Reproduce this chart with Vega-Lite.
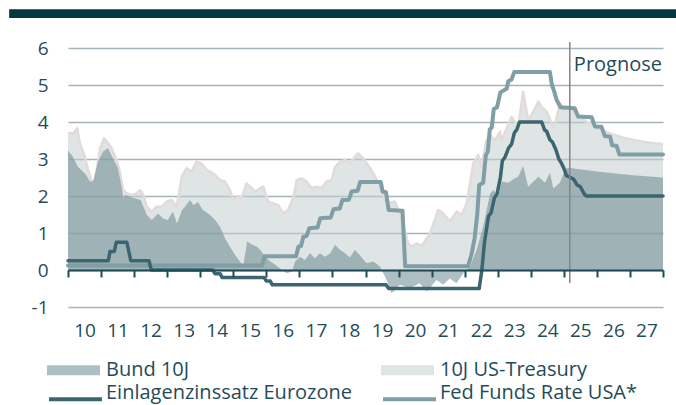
{
  "$schema": "https://vega.github.io/schema/vega-lite/v6.json",
  "width": 595,
  "height": 259,
  "autosize": {"type": "none"},
  "padding": {"left": 68, "top": 48, "right": 13, "bottom": 98},
  "background": "white",
  "config": {
    "view": {"stroke": null},
    "font": "Open Sans",
    "text": {"font": "Open Sans"}
  },
  "resolve": {"axis": {"x": "independent", "y": "independent"}},
  "datasets": {
    "bund": [
      {"t": 2010.00, "v": 3.24}, {"t": 2010.05, "v": 3.17}, {"t": 2010.12, "v": 3.10}, {"t": 2010.30, "v": 2.79},
      {"t": 2010.45, "v": 2.66}, {"t": 2010.55, "v": 2.57}, {"t": 2010.66, "v": 2.39}, {"t": 2010.76, "v": 2.39},
      {"t": 2010.91, "v": 2.93}, {"t": 2011.06, "v": 3.20}, {"t": 2011.21, "v": 3.29}, {"t": 2011.36, "v": 3.02},
      {"t": 2011.51, "v": 2.75}, {"t": 2011.63, "v": 2.21}, {"t": 2011.67, "v": 1.94}, {"t": 2011.72, "v": 2.03},
      {"t": 2011.87, "v": 1.98}, {"t": 2012.02, "v": 1.94}, {"t": 2012.20, "v": 1.89}, {"t": 2012.38, "v": 1.49},
      {"t": 2012.53, "v": 1.35}, {"t": 2012.63, "v": 1.44}, {"t": 2012.72, "v": 1.53}, {"t": 2012.87, "v": 1.40},
      {"t": 2013.02, "v": 1.35}, {"t": 2013.17, "v": 1.58}, {"t": 2013.30, "v": 1.26}, {"t": 2013.45, "v": 1.62},
      {"t": 2013.54, "v": 1.71}, {"t": 2013.69, "v": 1.89}, {"t": 2013.80, "v": 1.75}, {"t": 2013.93, "v": 1.84},
      {"t": 2014.08, "v": 1.62}, {"t": 2014.29, "v": 1.49}, {"t": 2014.45, "v": 1.35}, {"t": 2014.60, "v": 1.17},
      {"t": 2014.75, "v": 0.86}, {"t": 2014.90, "v": 0.63}, {"t": 2015.05, "v": 0.41}, {"t": 2015.20, "v": 0.23},
      {"t": 2015.30, "v": 0.09}, {"t": 2015.42, "v": 0.77}, {"t": 2015.57, "v": 0.68}, {"t": 2015.72, "v": 0.63},
      {"t": 2015.82, "v": 0.54}, {"t": 2015.97, "v": 0.36}, {"t": 2016.12, "v": 0.23}, {"t": 2016.27, "v": 0.14},
      {"t": 2016.47, "v": 0.00}, {"t": 2016.62, "v": -0.09}, {"t": 2016.77, "v": -0.05}, {"t": 2016.87, "v": 0.23},
      {"t": 2017.02, "v": 0.36}, {"t": 2017.17, "v": 0.27}, {"t": 2017.32, "v": 0.45}, {"t": 2017.47, "v": 0.32},
      {"t": 2017.62, "v": 0.45}, {"t": 2017.78, "v": 0.36}, {"t": 2017.93, "v": 0.45}, {"t": 2018.08, "v": 0.68},
      {"t": 2018.23, "v": 0.54}, {"t": 2018.38, "v": 0.45}, {"t": 2018.53, "v": 0.34}, {"t": 2018.68, "v": 0.55},
      {"t": 2018.83, "v": 0.40}, {"t": 2019.03, "v": 0.18}, {"t": 2019.24, "v": 0.23}, {"t": 2019.44, "v": 0.09},
      {"t": 2019.64, "v": -0.27}, {"t": 2019.79, "v": -0.63}, {"t": 2020.04, "v": -0.40}, {"t": 2020.34, "v": -0.49},
      {"t": 2020.64, "v": -0.36}, {"t": 2020.85, "v": -0.58}, {"t": 2021.15, "v": -0.27}, {"t": 2021.35, "v": -0.40},
      {"t": 2021.55, "v": -0.23}, {"t": 2021.75, "v": -0.36}, {"t": 2021.96, "v": -0.09}, {"t": 2022.16, "v": 0.09},
      {"t": 2022.36, "v": 0.54}, {"t": 2022.56, "v": 1.17}, {"t": 2022.77, "v": 2.07}, {"t": 2022.87, "v": 2.16},
      {"t": 2023.02, "v": 1.98}, {"t": 2023.12, "v": 2.39}, {"t": 2023.32, "v": 2.36}, {"t": 2023.47, "v": 2.45},
      {"t": 2023.62, "v": 2.52}, {"t": 2023.77, "v": 2.81}, {"t": 2023.92, "v": 2.25}, {"t": 2024.23, "v": 2.52},
      {"t": 2024.43, "v": 2.36}, {"t": 2024.58, "v": 2.63}, {"t": 2024.68, "v": 2.20}, {"t": 2024.88, "v": 2.36},
      {"t": 2024.98, "v": 2.58}, {"t": 2025.08, "v": 2.75}, {"t": 2025.18, "v": 2.76}, {"t": 2026.00, "v": 2.66},
      {"t": 2027.00, "v": 2.57}, {"t": 2028.00, "v": 2.50}
    ],
    "ust": [
      {"t": 2010.00, "v": 3.71}, {"t": 2010.16, "v": 3.69}, {"t": 2010.28, "v": 3.83}, {"t": 2010.36, "v": 3.42},
      {"t": 2010.51, "v": 3.06}, {"t": 2010.61, "v": 2.70}, {"t": 2010.72, "v": 2.39}, {"t": 2010.82, "v": 2.43},
      {"t": 2010.97, "v": 3.29}, {"t": 2011.09, "v": 3.56}, {"t": 2011.22, "v": 3.42}, {"t": 2011.32, "v": 3.29},
      {"t": 2011.47, "v": 2.97}, {"t": 2011.57, "v": 2.65}, {"t": 2011.67, "v": 2.16}, {"t": 2011.78, "v": 2.07},
      {"t": 2011.93, "v": 2.03}, {"t": 2012.08, "v": 2.07}, {"t": 2012.18, "v": 2.16}, {"t": 2012.28, "v": 2.03},
      {"t": 2012.38, "v": 1.71}, {"t": 2012.53, "v": 1.58}, {"t": 2012.68, "v": 1.71}, {"t": 2012.83, "v": 1.71},
      {"t": 2012.99, "v": 1.85}, {"t": 2013.14, "v": 1.89}, {"t": 2013.29, "v": 1.71}, {"t": 2013.44, "v": 2.52},
      {"t": 2013.59, "v": 2.75}, {"t": 2013.74, "v": 2.66}, {"t": 2013.89, "v": 2.93}, {"t": 2014.04, "v": 2.88},
      {"t": 2014.20, "v": 2.70}, {"t": 2014.30, "v": 2.66}, {"t": 2014.45, "v": 2.57}, {"t": 2014.60, "v": 2.43},
      {"t": 2014.75, "v": 2.39}, {"t": 2014.90, "v": 2.16}, {"t": 2015.00, "v": 1.89}, {"t": 2015.15, "v": 2.00},
      {"t": 2015.25, "v": 1.94}, {"t": 2015.40, "v": 2.34}, {"t": 2015.56, "v": 2.21}, {"t": 2015.66, "v": 2.12},
      {"t": 2015.81, "v": 2.21}, {"t": 2015.91, "v": 2.25}, {"t": 2016.06, "v": 1.85}, {"t": 2016.21, "v": 1.80},
      {"t": 2016.36, "v": 1.75}, {"t": 2016.51, "v": 1.53}, {"t": 2016.66, "v": 1.62}, {"t": 2016.82, "v": 1.98},
      {"t": 2016.92, "v": 2.43}, {"t": 2017.07, "v": 2.48}, {"t": 2017.22, "v": 2.39}, {"t": 2017.37, "v": 2.21},
      {"t": 2017.52, "v": 2.25}, {"t": 2017.67, "v": 2.21}, {"t": 2017.82, "v": 2.39}, {"t": 2017.98, "v": 2.43},
      {"t": 2018.08, "v": 2.79}, {"t": 2018.23, "v": 2.93}, {"t": 2018.38, "v": 2.97}, {"t": 2018.53, "v": 2.90},
      {"t": 2018.68, "v": 3.06}, {"t": 2018.78, "v": 3.15}, {"t": 2018.93, "v": 3.02}, {"t": 2019.24, "v": 2.61},
      {"t": 2019.44, "v": 2.25}, {"t": 2019.64, "v": 1.80}, {"t": 2019.89, "v": 1.85}, {"t": 2020.04, "v": 1.53},
      {"t": 2020.29, "v": 0.72}, {"t": 2020.40, "v": 0.63}, {"t": 2020.55, "v": 0.72}, {"t": 2020.70, "v": 0.65},
      {"t": 2020.95, "v": 0.99}, {"t": 2021.20, "v": 1.62}, {"t": 2021.35, "v": 1.53}, {"t": 2021.55, "v": 1.31},
      {"t": 2021.76, "v": 1.58}, {"t": 2021.91, "v": 1.49}, {"t": 2022.06, "v": 1.80}, {"t": 2022.26, "v": 2.88},
      {"t": 2022.41, "v": 3.11}, {"t": 2022.51, "v": 2.79}, {"t": 2022.66, "v": 3.51}, {"t": 2022.76, "v": 3.65},
      {"t": 2022.92, "v": 3.51}, {"t": 2023.07, "v": 3.74}, {"t": 2023.12, "v": 3.51}, {"t": 2023.25, "v": 3.78},
      {"t": 2023.42, "v": 4.14}, {"t": 2023.62, "v": 3.87}, {"t": 2023.77, "v": 4.82}, {"t": 2023.92, "v": 4.05},
      {"t": 2024.08, "v": 4.28}, {"t": 2024.23, "v": 4.55}, {"t": 2024.33, "v": 4.41}, {"t": 2024.48, "v": 4.28},
      {"t": 2024.62, "v": 4.00}, {"t": 2024.68, "v": 3.83}, {"t": 2024.78, "v": 4.10}, {"t": 2024.88, "v": 4.50},
      {"t": 2024.98, "v": 4.32}, {"t": 2025.18, "v": 4.41}, {"t": 2025.45, "v": 4.14}, {"t": 2025.80, "v": 3.95},
      {"t": 2026.14, "v": 3.78}, {"t": 2026.50, "v": 3.66}, {"t": 2026.85, "v": 3.56}, {"t": 2027.27, "v": 3.49},
      {"t": 2027.60, "v": 3.44}, {"t": 2028.00, "v": 3.40}
    ],
    "ecb": [
      {"t": 2010.00, "v": 0.25}, {"t": 2011.22, "v": 0.25}, {"t": 2011.27, "v": 0.50}, {"t": 2011.40, "v": 0.50},
      {"t": 2011.46, "v": 0.75}, {"t": 2011.78, "v": 0.75}, {"t": 2011.90, "v": 0.25}, {"t": 2012.45, "v": 0.25},
      {"t": 2012.52, "v": 0.00}, {"t": 2014.38, "v": 0.00}, {"t": 2014.45, "v": -0.10}, {"t": 2014.60, "v": -0.10},
      {"t": 2014.66, "v": -0.20}, {"t": 2015.93, "v": -0.20}, {"t": 2016.00, "v": -0.30}, {"t": 2016.12, "v": -0.30},
      {"t": 2016.18, "v": -0.40}, {"t": 2019.62, "v": -0.40}, {"t": 2019.70, "v": -0.50}, {"t": 2022.44, "v": -0.50},
      {"t": 2022.52, "v": 0.00}, {"t": 2022.60, "v": 0.75}, {"t": 2022.72, "v": 1.45}, {"t": 2022.80, "v": 1.55},
      {"t": 2022.90, "v": 1.95}, {"t": 2022.98, "v": 2.05}, {"t": 2023.08, "v": 2.50}, {"t": 2023.14, "v": 2.95},
      {"t": 2023.22, "v": 3.05}, {"t": 2023.33, "v": 3.30}, {"t": 2023.42, "v": 3.40}, {"t": 2023.50, "v": 3.70},
      {"t": 2023.58, "v": 3.80}, {"t": 2023.66, "v": 4.00}, {"t": 2024.33, "v": 4.00}, {"t": 2024.42, "v": 3.78},
      {"t": 2024.48, "v": 3.75}, {"t": 2024.58, "v": 3.52}, {"t": 2024.66, "v": 3.45}, {"t": 2024.76, "v": 3.25},
      {"t": 2024.85, "v": 3.00}, {"t": 2024.92, "v": 2.90}, {"t": 2025.00, "v": 2.75}, {"t": 2025.08, "v": 2.55},
      {"t": 2025.20, "v": 2.50}, {"t": 2025.30, "v": 2.45}, {"t": 2025.40, "v": 2.30}, {"t": 2025.50, "v": 2.25},
      {"t": 2025.62, "v": 2.05}, {"t": 2025.68, "v": 2.00}, {"t": 2028.00, "v": 2.00}
    ],
    "fed": [
      {"t": 2010.00, "v": 0.12}, {"t": 2015.87, "v": 0.12}, {"t": 2015.95, "v": 0.37}, {"t": 2016.90, "v": 0.37},
      {"t": 2016.97, "v": 0.63}, {"t": 2017.05, "v": 0.65}, {"t": 2017.12, "v": 0.90}, {"t": 2017.22, "v": 0.92},
      {"t": 2017.30, "v": 1.13}, {"t": 2017.55, "v": 1.15}, {"t": 2017.63, "v": 1.40}, {"t": 2017.95, "v": 1.42},
      {"t": 2018.03, "v": 1.64}, {"t": 2018.22, "v": 1.66}, {"t": 2018.30, "v": 1.89}, {"t": 2018.50, "v": 1.90},
      {"t": 2018.58, "v": 2.12}, {"t": 2018.76, "v": 2.14}, {"t": 2018.84, "v": 2.38}, {"t": 2019.46, "v": 2.38},
      {"t": 2019.52, "v": 2.12}, {"t": 2019.62, "v": 2.10}, {"t": 2019.70, "v": 1.62}, {"t": 2020.12, "v": 1.60},
      {"t": 2020.20, "v": 0.10}, {"t": 2022.10, "v": 0.10}, {"t": 2022.20, "v": 0.40}, {"t": 2022.30, "v": 0.85},
      {"t": 2022.38, "v": 1.50}, {"t": 2022.44, "v": 2.30}, {"t": 2022.56, "v": 2.36}, {"t": 2022.64, "v": 3.10},
      {"t": 2022.70, "v": 3.20}, {"t": 2022.76, "v": 3.80}, {"t": 2022.82, "v": 3.85}, {"t": 2022.88, "v": 4.35},
      {"t": 2022.98, "v": 4.40}, {"t": 2023.08, "v": 4.80}, {"t": 2023.27, "v": 4.90}, {"t": 2023.32, "v": 5.10},
      {"t": 2023.42, "v": 5.15}, {"t": 2023.50, "v": 5.35}, {"t": 2024.58, "v": 5.35}, {"t": 2024.64, "v": 5.00},
      {"t": 2024.70, "v": 4.85}, {"t": 2024.78, "v": 4.60}, {"t": 2024.90, "v": 4.40}, {"t": 2025.33, "v": 4.37},
      {"t": 2025.43, "v": 4.15}, {"t": 2025.84, "v": 4.13}, {"t": 2025.94, "v": 3.88}, {"t": 2026.14, "v": 3.87},
      {"t": 2026.24, "v": 3.62}, {"t": 2026.40, "v": 3.60}, {"t": 2026.46, "v": 3.37}, {"t": 2026.60, "v": 3.35},
      {"t": 2026.68, "v": 3.12}, {"t": 2028.00, "v": 3.12}
    ]
  },
  "layer": [
    {
      "data": {"name": "ust"},
      "mark": {"type": "area", "fillOpacity": 0.55, "interpolate": "linear"},
      "encoding": {
        "x": {
          "field": "t",
          "type": "quantitative",
          "title": null,
          "scale": {"domain": [2010, 2028], "nice": false, "zero": false},
          "axis": {
            "title": null,
            "values": [2010, 2011, 2012, 2013, 2014, 2015, 2016, 2017, 2018, 2019, 2020, 2021, 2022, 2023, 2024, 2025, 2026, 2027, 2028],
            "labelExpr": "datum.value < 2028 ? format(datum.value - 2000, 'd') : ''",
            "offset": -37,
            "grid": false,
            "domainColor": "#1d4a56",
            "domainWidth": 2,
            "tickColor": "#1d4a56",
            "tickWidth": 2,
            "tickSize": 7,
            "labelOffset": 16.5,
            "labelPadding": 44,
            "labelFontSize": 19,
            "labelColor": "#1f4c59",
            "labelFont": "Open Sans",
            "labelFlush": false,
            "labelOverlap": false,
            "zindex": 1
          }
        },
        "y": {
          "field": "v",
          "type": "quantitative",
          "title": null,
          "scale": {"domain": [-1, 6], "nice": false, "zero": false},
          "axis": {
            "title": null,
            "values": [-1, 0, 1, 2, 3, 4, 5, 6],
            "labelExpr": "datum.value == -1 ? '-1' : datum.label",
            "grid": true,
            "gridColor": "#a3b5ba",
            "gridWidth": 1.5,
            "domain": false,
            "ticks": false,
            "labelPadding": 20,
            "labelFontSize": 19,
            "labelColor": "#1f4c59",
            "labelFont": "Open Sans",
            "labelOverlap": false
          }
        },
        "fill": {
          "datum": "10J US-Treasury",
          "scale": {"domain": ["Bund 10J", "10J US-Treasury"], "range": ["#6a8b91", "#c5ced0"]},
          "legend": {
            "title": null,
            "orient": "none",
            "legendX": -21,
            "legendY": 295.5,
            "direction": "horizontal",
            "columns": 2,
            "columnPadding": 191,
            "symbolType": "M-1,-0.19H1V0.19H-1Z",
            "symbolSize": 2809,
            "symbolOpacity": 0.55,
            "symbolStrokeWidth": 0,
            "labelFontSize": 20,
            "labelLimit": 400,
            "labelColor": "#1f4c59",
            "labelFont": "Open Sans",
            "labelOffset": 6
          }
        }
      }
    },
    {
      "data": {"name": "ust"},
      "mark": {"type": "line", "color": "#e3dbda", "strokeWidth": 2.5, "strokeJoin": "round"},
      "encoding": {
        "x": {"field": "t", "type": "quantitative", "axis": null},
        "y": {"field": "v", "type": "quantitative", "axis": null}
      }
    },
    {
      "data": {"name": "bund"},
      "mark": {"type": "area", "fillOpacity": 0.55, "interpolate": "linear"},
      "encoding": {
        "x": {"field": "t", "type": "quantitative", "axis": null},
        "y": {"field": "v", "type": "quantitative", "axis": null},
        "fill": {"datum": "Bund 10J"}
      }
    },
    {
      "data": {"name": "fed"},
      "mark": {"type": "line", "strokeWidth": 4, "strokeJoin": "round", "strokeCap": "round"},
      "encoding": {
        "x": {"field": "t", "type": "quantitative", "axis": null},
        "y": {"field": "v", "type": "quantitative", "axis": null},
        "stroke": {
          "datum": "Fed Funds Rate USA*",
          "scale": {"domain": ["Einlagenzinssatz Eurozone", "Fed Funds Rate USA*"], "range": ["#3b6571", "#7f9ea5"]},
          "legend": {
            "title": null,
            "orient": "none",
            "legendX": -21,
            "legendY": 322.5,
            "direction": "horizontal",
            "columns": 2,
            "columnPadding": 23,
            "symbolType": "stroke",
            "symbolSize": 2809,
            "symbolStrokeWidth": 4,
            "labelFontSize": 20,
            "labelLimit": 400,
            "labelBaseline": "alphabetic",
            "labelColor": "#1f4c59",
            "labelFont": "Open Sans",
            "labelOffset": 2
          }
        }
      }
    },
    {
      "data": {"name": "ecb"},
      "mark": {"type": "line", "strokeWidth": 3.5, "strokeJoin": "round", "strokeCap": "round"},
      "encoding": {
        "x": {"field": "t", "type": "quantitative", "axis": null},
        "y": {"field": "v", "type": "quantitative", "axis": null},
        "stroke": {"datum": "Einlagenzinssatz Eurozone"}
      }
    },
    {
      "data": {"values": [{"label": "Prognose"}]},
      "mark": {"type": "rule", "color": "#8c8280", "strokeWidth": 1.5},
      "encoding": {
        "x": {"datum": 2025.18, "type": "quantitative", "axis": null},
        "y": {"datum": -0.35, "type": "quantitative", "axis": null},
        "y2": {"datum": 6.16}
      }
    },
    {
      "data": {"values": [{"label": "Prognose"}]},
      "mark": {"type": "text", "align": "right", "baseline": "alphabetic", "fontSize": 20, "color": "#1f4c59", "dx": -1},
      "encoding": {
        "x": {"datum": 2028, "type": "quantitative", "axis": null},
        "y": {"datum": 5.38, "type": "quantitative", "axis": null},
        "text": {"field": "label"}
      }
    },
    {
      "data": {"values": [{"label": "bar"}]},
      "mark": {"type": "rect", "color": "#023641"},
      "encoding": {
        "x": {"datum": 2008.22, "type": "quantitative", "axis": null},
        "x2": {"datum": 2028.4},
        "y": {"datum": 7.05, "type": "quantitative", "axis": null},
        "y2": {"datum": 6.81}
      }
    }
  ]
}
